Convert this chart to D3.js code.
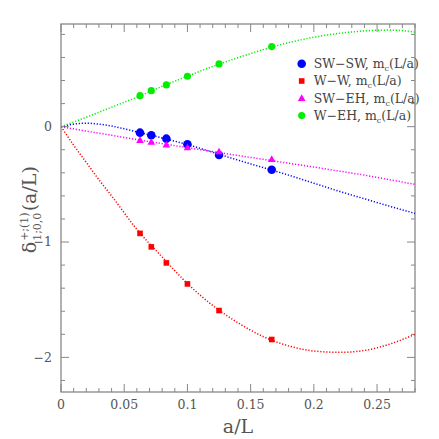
<!DOCTYPE html>
<meta charset="utf-8">
<style>
body { margin: 0; background: #fff; }
svg text { font-family: "DejaVu Serif", serif; fill: #555; }
.frame { fill: none; stroke: #888; stroke-width: 1.3; }
.tick { stroke: #888; stroke-width: 1; }
.fit { fill: none; stroke-width: 1.5; stroke-dasharray: 1.2,1.8; }
</style>
<body>
<script src="https://d3js.org/d3.v7.min.js"></script>
<script>

// lattice spacings a/L (L/a = 16, 14, 12, 10, 8, 6)
var aL = [1/16, 1/14, 1/12, 1/10, 1/8, 1/6];

var swsw = [-0.052, -0.075, -0.104, -0.153, -0.246, -0.373];
var ww   = [-0.925, -1.042, -1.181, -1.363, -1.594, -1.845];
var sweh = [-0.118, -0.135, -0.159, -0.182, -0.217, -0.283];
var weh  = [0.269, 0.312, 0.362, 0.437, 0.544, 0.694];

// fit curves
var fitX    = [0, 0.01, 0.02, 0.03, 0.04, 0.06, 0.08, 0.1, 0.12, 0.14, 0.16, 0.18, 0.2, 0.22, 0.24, 0.26, 0.28];
var fitSwsw = [0, 0.022, 0.03, 0.022, 0.005, -0.045, -0.098, -0.155, -0.222, -0.29, -0.355, -0.42, -0.49, -0.56, -0.625, -0.69, -0.752];
var fitWw   = [0, -0.16, -0.31, -0.46, -0.6, -0.89, -1.13, -1.36, -1.55, -1.7, -1.82, -1.9, -1.945, -1.956, -1.94, -1.885, -1.8];
var fitSweh = [0, -0.019, -0.038, -0.057, -0.075, -0.112, -0.147, -0.182, -0.216, -0.25, -0.283, -0.317, -0.35, -0.385, -0.42, -0.46, -0.5];
var fitWeh  = [0, 0.04, 0.082, 0.125, 0.169, 0.255, 0.35, 0.437, 0.522, 0.598, 0.668, 0.728, 0.776, 0.809, 0.83, 0.837, 0.82];

var legendNames = ["SW\u2212SW, m", "W\u2212W, m", "SW\u2212EH, m", "W\u2212EH, m"];

var xTicks = [0, 0.05, 0.1, 0.15, 0.2, 0.25];
var yTicks = [0, -1, -2];

var margin = {top: 24, right: 24, bottom: 47, left: 61},
    width = 439 - margin.left - margin.right,
    height = 439 - margin.top - margin.bottom;

var x = d3.scaleLinear().domain([0, 0.28]).range([0, width]);
var y = d3.scaleLinear().domain([-2.3, 0.89]).range([height, 0]);

var svg = d3.select("body").append("svg")
    .attr("width", 439)
    .attr("height", 439)
  .append("g")
    .attr("transform", "translate(" + margin.left + "," + margin.top + ")");

// ticks on all four sides, pointing inward
var xMinor = d3.range(0, 0.2801, 0.01);
var yMinor = d3.range(-2.2, 0.81, 0.2);

function isMajorX(v) { return Math.abs(v / 0.05 - Math.round(v / 0.05)) < 1e-6; }
function isMajorY(v) { return Math.abs(v - Math.round(v)) < 1e-6; }

xMinor.forEach(function(v) {
  var len = isMajorX(v) ? 8 : 4;
  svg.append("line").attr("class", "tick")
      .attr("x1", x(v)).attr("x2", x(v)).attr("y1", height).attr("y2", height - len);
  svg.append("line").attr("class", "tick")
      .attr("x1", x(v)).attr("x2", x(v)).attr("y1", 0).attr("y2", len);
});
yMinor.forEach(function(v) {
  var len = isMajorY(v) ? 8 : 4;
  svg.append("line").attr("class", "tick")
      .attr("x1", 0).attr("x2", len).attr("y1", y(v)).attr("y2", y(v));
  svg.append("line").attr("class", "tick")
      .attr("x1", width).attr("x2", width - len).attr("y1", y(v)).attr("y2", y(v));
});

svg.append("rect").attr("class", "frame")
    .attr("width", width).attr("height", height);

svg.selectAll(".xlab")
    .data(xTicks)
  .enter().append("text")
    .attr("class", "xlab")
    .attr("x", function(d) { return x(d); })
    .attr("y", height + 17)
    .style("text-anchor", "middle")
    .style("font-size", "12.5px")
    .text(function(d) { return String(d); });

svg.selectAll(".ylab")
    .data(yTicks)
  .enter().append("text")
    .attr("class", "ylab")
    .attr("x", -9)
    .attr("y", function(d) { return y(d); })
    .attr("dy", ".35em")
    .style("text-anchor", "end")
    .style("font-size", "12.5px")
    .text(function(d) { return d < 0 ? "\u2212" + (-d) : String(d); });

// axis titles
svg.append("text")
    .attr("x", x(0.14))
    .attr("y", height + 41)
    .style("text-anchor", "middle")
    .style("font-size", "19px")
    .text("a/L");

var yg = svg.append("g");
var part1 = yg.append("text").style("font-size", "19px").text("\u03b4");
var w1 = part1.node().getComputedTextLength();
var sup = yg.append("text").attr("x", w1 + 1).attr("y", -8).style("font-size", "11px").text("+;(1)");
var sub = yg.append("text").attr("x", w1 + 1).attr("y", 5).style("font-size", "11px").text("1;0,0");
var w2 = Math.max(sup.node().getComputedTextLength(), sub.node().getComputedTextLength());
var part2 = yg.append("text").attr("x", w1 + w2 + 2).style("font-size", "19px").text("(a/L)");
var total = w1 + w2 + 2 + part2.node().getComputedTextLength();
yg.attr("transform", "translate(-25," + (y(-0.72) + total / 2) + ") rotate(-90)");

// fit curves
var series = [
  {fit: fitSwsw, pts: swsw, color: "#0000ff", shape: "circle"},
  {fit: fitWw,   pts: ww,   color: "#ff0000", shape: "square"},
  {fit: fitSweh, pts: sweh, color: "#ff00ff", shape: "triangle"},
  {fit: fitWeh,  pts: weh,  color: "#00ee00", shape: "green"}
];

var line = d3.line()
    .x(function(d) { return x(d[0]); })
    .y(function(d) { return y(d[1]); })
    .curve(d3.curveMonotoneX);

svg.append("clipPath").attr("id", "clip")
  .append("rect").attr("width", width).attr("height", height);

series.forEach(function(s) {
  svg.append("path")
      .attr("class", "fit")
      .attr("clip-path", "url(#clip)")
      .attr("d", line(fitX.map(function(v, i) { return [v, s.fit[i]]; })))
      .style("stroke", s.color);
});

function marker(g, shape, color) {
  if (shape === "circle") {
    g.append("circle").attr("r", 4.3).style("fill", color);
  } else if (shape === "square") {
    g.append("rect").attr("x", -2.8).attr("y", -2.8).attr("width", 5.6).attr("height", 5.6).style("fill", color);
  } else if (shape === "triangle") {
    g.append("path").attr("d", "M0,-4L3.8,2.6L-3.8,2.6Z").style("fill", color);
  } else {
    g.append("path").attr("d", d3.symbol().type(d3.symbolCircle).size(40)()).style("fill", color);
  }
}

series.forEach(function(s) {
  s.pts.forEach(function(v, i) {
    var g = svg.append("g")
        .attr("transform", "translate(" + x(aL[i]) + "," + y(v) + ")");
    marker(g, s.shape, s.color);
  });
});

// legend
var legend = svg.selectAll(".legend")
    .data(series)
  .enter().append("g")
    .attr("class", "legend")
    .attr("transform", function(d, i) { return "translate(" + (301.7 - margin.left) + "," + (63.7 - margin.top + i * 17.3) + ")"; });

legend.each(function(d) { marker(d3.select(this), d.shape, d.color); });

var lt = legend.append("text")
    .attr("x", 12)
    .attr("dy", ".35em")
    .style("font-size", "12.5px")
    .style("fill", "#444");
lt.append("tspan").text(function(d, i) { return legendNames[i]; });
lt.append("tspan").attr("dy", 3).style("font-size", "8px").text("c");
lt.append("tspan").attr("dy", -3).text("(L/a)");

</script>
